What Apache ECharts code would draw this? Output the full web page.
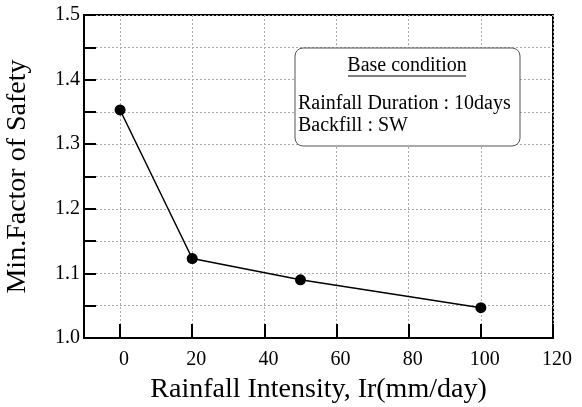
<!DOCTYPE html>
<html><head><meta charset="utf-8">
<script src="https://cdn.jsdelivr.net/npm/echarts@6/dist/echarts.min.js"></script>
<style>html,body{margin:0;padding:0;background:#fff}#c{width:582px;height:407px}</style>
</head><body><div id="c"></div>
<script>
const intensity = [0, 20, 50, 100];
const minFS = [1.353, 1.123, 1.09, 1.047];
const xTickLabels = [0, 20, 40, 60, 80, 100, 120];
const yTickLabels = [1.0, 1.1, 1.2, 1.3, 1.4, 1.5];
const boxTitle = 'Base condition';
const boxLines = ['Rainfall Duration : 10days', 'Backfill : SW'];

const font = 'Liberation Serif, Times New Roman, serif';
const chart = echarts.init(document.getElementById('c'), null, {renderer: 'canvas'});
chart.setOption({
  animation: false,
  backgroundColor: '#fff',
  grid: {left: 84, right: 29, top: 15, bottom: 69, outerBoundsMode: 'none', containLabel: false,
    show: true, borderColor: '#000', borderWidth: 2, backgroundColor: 'transparent'},
  xAxis: {
    type: 'value', min: -10, max: 120, interval: 10,
    name: 'Rainfall Intensity, Ir(mm/day)', nameLocation: 'middle', nameGap: 38,
    nameTextStyle: {fontFamily: font, fontSize: 28, color: '#000'},
    axisLine: {show: true, onZero: false, lineStyle: {color: '#000', width: 2}},
    axisTick: {show: true, inside: true, length: 14, customValues: xTickLabels, lineStyle: {color: '#000', width: 2}},
    axisLabel: {customValues: xTickLabels, fontFamily: font, fontSize: 20, color: '#000', margin: 12, padding: [0, 0, 0, 8]},
    splitLine: {show: true, lineStyle: {color: '#aaa', type: [2, 2], width: 1}}
  },
  yAxis: {
    type: 'value', min: 1.0, max: 1.5, interval: 0.05,
    name: 'Min.Factor of Safety', nameLocation: 'middle', nameGap: 52,
    nameTextStyle: {fontFamily: font, fontSize: 28, color: '#000'},
    axisLine: {show: true, onZero: false, lineStyle: {color: '#000', width: 2}},
    axisTick: {show: true, inside: true, length: 12, lineStyle: {color: '#000', width: 2}},
    axisLabel: {customValues: yTickLabels, fontFamily: font, fontSize: 20, color: '#000', margin: 4,
      formatter: v => Number(v).toFixed(1)},
    splitLine: {show: true, lineStyle: {color: '#aaa', type: [2, 2], width: 1}}
  },
  series: [{
    type: 'line', data: intensity.map((x, i) => [x, minFS[i]]),
    symbol: 'circle', symbolSize: 11,
    lineStyle: {color: '#000', width: 1.5},
    itemStyle: {color: '#000'}
  }],
  graphic: [
    {type: 'rect', shape: {x: 295, y: 48, width: 225, height: 98, r: 8}, style: {fill: '#fff', stroke: '#555', lineWidth: 1}, z: 10},
    {type: 'text', x: 407, y: 66, style: {text: boxTitle, font: '20px ' + font, fill: '#000', align: 'center', verticalAlign: 'middle'}, z: 11},
    {type: 'line', shape: {x1: 348, y1: 76, x2: 466, y2: 76}, style: {stroke: '#000', lineWidth: 1}, z: 11},
    {type: 'text', x: 298, y: 104, style: {text: boxLines[0], font: '20px ' + font, fill: '#000', align: 'left', verticalAlign: 'middle'}, z: 11},
    {type: 'text', x: 298, y: 126, style: {text: boxLines[1], font: '20px ' + font, fill: '#000', align: 'left', verticalAlign: 'middle'}, z: 11}
  ]
});
</script></body></html>
